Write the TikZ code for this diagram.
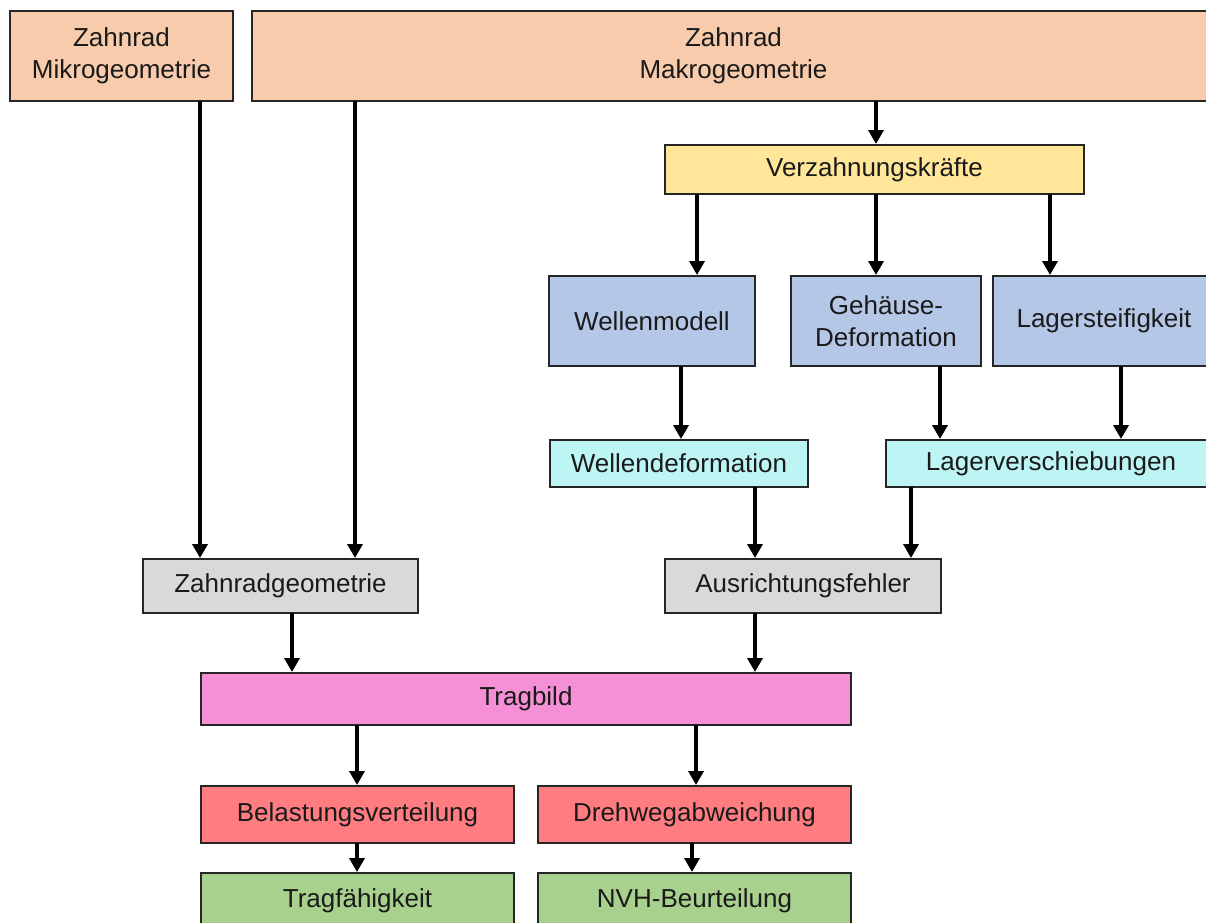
\documentclass[tikz,border=0pt]{standalone}
\usepackage{fontspec}
\setmainfont{Liberation Sans}
\usetikzlibrary{arrows.meta}
\definecolor{peach}{HTML}{F8CBAD}
\definecolor{yel}{HTML}{FFE699}
\definecolor{blu}{HTML}{B4C7E7}
\definecolor{cya}{HTML}{BDF4F4}
\definecolor{gry}{HTML}{D9D9D9}
\definecolor{pnk}{HTML}{F58FD6}
\definecolor{rd}{HTML}{FF7C80}
\definecolor{grn}{HTML}{A9D18E}
\definecolor{txt}{HTML}{1A1A1A}
\begin{document}
\begin{tikzpicture}[x=1pt,y=-1pt,
  box/.style={draw=black!85, line width=2pt, inner sep=0pt, outer sep=0pt,
    anchor=north west, align=center, text=txt,
    font=\fontsize{26}{32}\selectfont},
  arr/.style={line width=4pt, -{Triangle[length=14pt,width=15pt]}, shorten >=1pt}]
\useasboundingbox (0,0) rectangle (1206,922);
\clip (0,0) rectangle (1206,922);
\newcommand{\bx}[7]{\node[box, fill=#6, minimum width=#4-#2, minimum height=#5-#3] (#1) at (#2,#3) {#7};}
\bx{mikro}{10}{11}{233}{101}{peach}{Zahnrad\\Mikrogeometrie}
\bx{makro}{252}{11}{1215}{101}{peach}{Zahnrad\\Makrogeometrie}
\bx{verz}{665}{145}{1084}{194}{yel}{Verzahnungskräfte}
\bx{wm}{549}{276}{755}{366}{blu}{Wellenmodell}
\bx{geh}{791}{276}{981}{366}{blu}{Gehäuse-\\Deformation}
\bx{ls}{993}{276}{1215}{366}{blu}{Lagersteifigkeit}
\bx{wd}{550}{440}{808}{487}{cya}{Wellendeformation}
\bx{lv}{886}{440}{1216}{487}{cya}{Lagerverschiebungen}
\bx{zg}{143}{559}{418}{613}{gry}{Zahnradgeometrie}
\bx{af}{665}{559}{941}{613}{gry}{Ausrichtungsfehler}
\bx{tb}{201}{673}{851}{725}{pnk}{Tragbild}
\bx{bel}{201}{786}{514}{843}{rd}{Belastungsverteilung}
\bx{dw}{538}{786}{851}{843}{rd}{Drehwegabweichung}
\bx{tf}{201}{873}{514}{928}{grn}{Tragfähigkeit}
\bx{nvh}{538}{873}{851}{928}{grn}{NVH-Beurteilung}
\newcommand{\ar}[3]{\draw[arr] (#3,0 |- #1.south) -- (#3,0 |- #2.north);}
\ar{mikro}{zg}{200}
\ar{makro}{zg}{355}
\ar{makro}{verz}{876}
\ar{verz}{wm}{697}
\ar{verz}{geh}{876}
\ar{verz}{ls}{1050}
\ar{wm}{wd}{681}
\ar{geh}{lv}{940}
\ar{ls}{lv}{1121}
\ar{wd}{af}{755}
\ar{lv}{af}{911}
\ar{zg}{tb}{292}
\ar{af}{tb}{755}
\ar{tb}{bel}{357}
\ar{tb}{dw}{696}
\ar{bel}{tf}{357}
\ar{dw}{nvh}{692}
\end{tikzpicture}
\end{document}
